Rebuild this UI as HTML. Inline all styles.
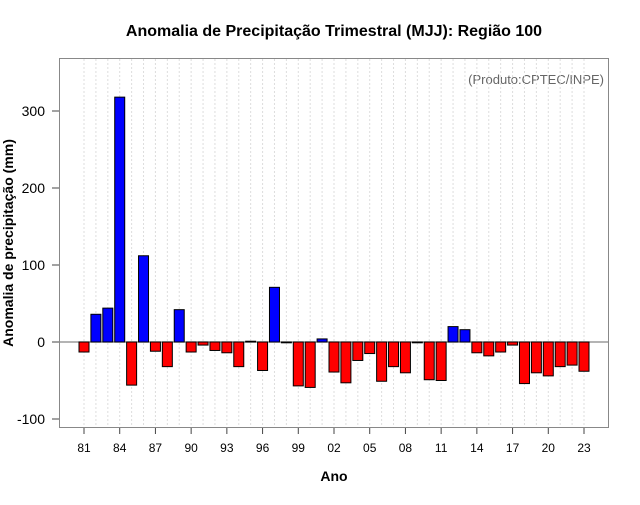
<!DOCTYPE html>
<html><head><meta charset="utf-8"><style>
body{margin:0;background:#fff;font-family:"Liberation Sans",sans-serif}
</style></head><body>
<svg id="chart" width="640" height="500" xmlns="http://www.w3.org/2000/svg" font-family="Liberation Sans, sans-serif">
<text x="334" y="36" text-anchor="middle" font-size="16" font-weight="bold">Anomalia de Precipitação Trimestral (MJJ): Região 100</text>
<text x="604" y="84" text-anchor="end" font-size="13" fill="#666">(Produto:CPTEC/INPE)</text>
<text x="334" y="481" text-anchor="middle" font-size="14" font-weight="bold">Ano</text>
<text transform="translate(13,243) rotate(-90)" text-anchor="middle" font-size="14" font-weight="bold">Anomalia de precipitação (mm)</text>
<g id="grid"></g><g id="bars"></g><g id="axes"></g>
<rect x="59.5" y="58.5" width="549" height="369" fill="none" stroke="#888"/>
</svg>
<script>
const years=[1981,1982,1983,1984,1985,1986,1987,1988,1989,1990,1991,1992,1993,1994,1995,1996,1997,1998,1999,2000,2001,2002,2003,2004,2005,2006,2007,2008,2009,2010,2011,2012,2013,2014,2015,2016,2017,2018,2019,2020,2021,2022,2023];
const values=[-13,36,44,318,-56,112,-12,-32,42,-13,-4,-11,-14,-32,1,-37,71,-1,-57,-59,4,-39,-53,-24,-15,-51,-32,-40,-1,-49,-50,20,16,-14,-18,-13,-4,-54,-40,-44,-32,-30,-38];
const yTicks=[-100,0,100,200,300];
const xTickYears=[1981,1984,1987,1990,1993,1996,1999,2002,2005,2008,2011,2014,2017,2020,2023];
const NS="http://www.w3.org/2000/svg";
const X=y=>84+(y-1981)*(500/42);
const Y=v=>342-v*0.77;
function mk(t,a,p){const e=document.createElementNS(NS,t);for(const k in a)e.setAttribute(k,a[k]);p.appendChild(e);return e;}
const grid=document.getElementById('grid'),bars=document.getElementById('bars'),axes=document.getElementById('axes');
years.forEach(y=>{const l=mk('line',{x1:X(y),x2:X(y),y1:59,y2:427,stroke:'#ddd','stroke-dasharray':'2,2'},grid);

});
const z=mk('line',{x1:60,x2:608,y1:Y(0),y2:Y(0),stroke:'#888','stroke-width':1.2},grid);


years.forEach((y,i)=>{const v=values[i];const r=mk('rect',{x:X(y)-5,y:Math.min(Y(v),Y(0)),width:10,height:Math.max(Math.abs(Y(v)-Y(0)),0.8),fill:v>=0?'#0000ff':'#ff0000',stroke:'#000','stroke-width':1},bars);

});
yTicks.forEach(t=>{const l=mk('line',{x1:52,x2:59,y1:Y(t),y2:Y(t),stroke:'#444'},axes);


const tx=mk('text',{x:45,y:Y(t)+5,'text-anchor':'end','font-size':14},axes);tx.textContent=t;

});
xTickYears.forEach(y=>{const l=mk('line',{x1:X(y),x2:X(y),y1:428,y2:434,stroke:'#444'},axes);


const tx=mk('text',{x:X(y),y:452,'text-anchor':'middle','font-size':12},axes);tx.textContent=String(y%100).padStart(2,'0');

});
</script>
</body></html>
